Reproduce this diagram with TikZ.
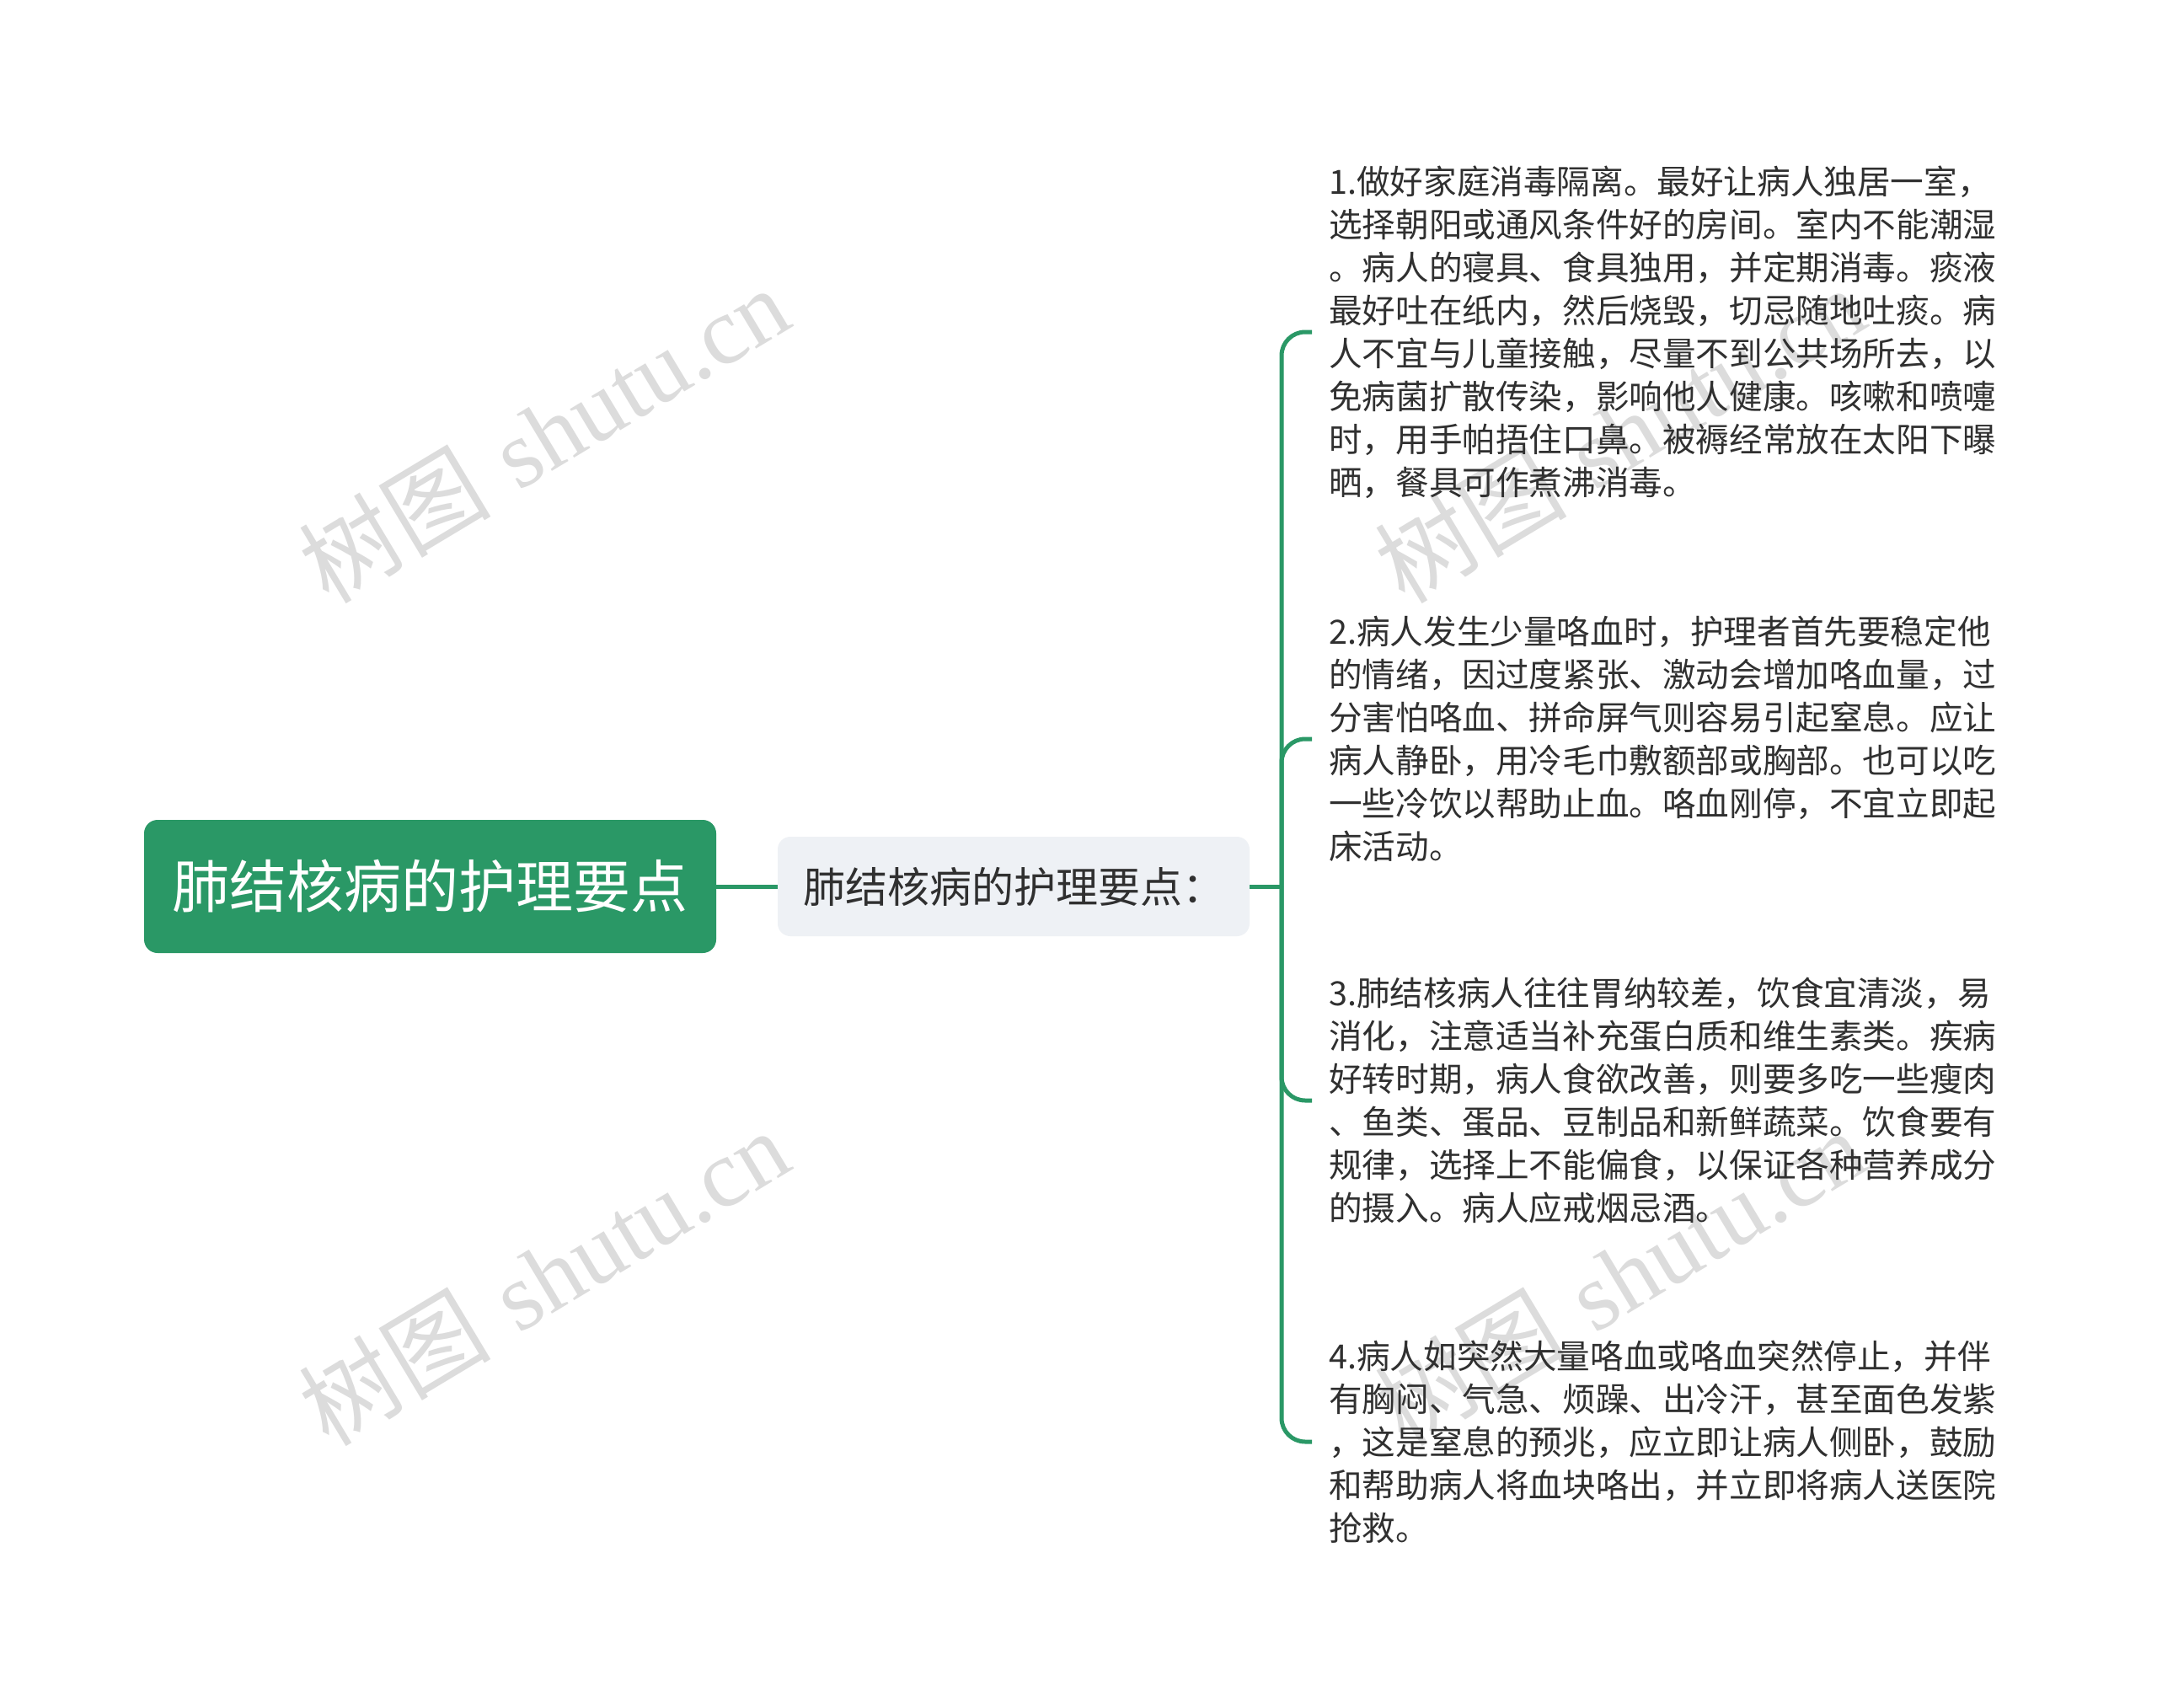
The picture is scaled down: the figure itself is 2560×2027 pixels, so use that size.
\documentclass[tikz,border=0pt]{standalone}
\usepackage{fontspec}
\newfontfamily\cjk{Noto Sans CJK SC}
\newfontfamily\wmserif{Liberation Serif}
\definecolor{mgreen}{RGB}{42,152,102}
\definecolor{midfill}{RGB}{238,241,245}
\definecolor{txtgray}{RGB}{48,48,48}
\definecolor{wmgray}{RGB}{220,220,220}
\tikzset{
  rootbox/.style={rounded corners=16pt, fill=mgreen, minimum width=679pt, minimum height=158pt, inner sep=0pt, text=white, font=\cjk\fontsize{68}{80}\selectfont},
  midbox/.style={rounded corners=15pt, fill=midfill, minimum width=560pt, minimum height=118pt, inner sep=0pt, text=txtgray, font=\cjk\fontsize{50}{60}\selectfont},
  leaf/.style={anchor=west, inner sep=0pt, align=left, text=txtgray, font=\cjk\fontsize{39.6}{51}\selectfont},
  conn/.style={draw=mgreen, line width=5pt},
  wm/.style={rotate=31, text=wmgray, inner sep=0pt, font=\fontsize{114}{124}\selectfont}
}
\begin{document}
\begin{tikzpicture}[x=1pt,y=-1pt]
\useasboundingbox (0,0) rectangle (2560,2027);
\fill[white] (0,0) rectangle (2560,2027);
% watermarks
\node[wm] (wm1) at (645,515) {{\cjk 树图} {\wmserif shutu.cn}};
\node[wm] (wm2) at (645,1515) {{\cjk 树图} {\wmserif shutu.cn}};
\node[wm] (wm3) at (1922,515) {{\cjk 树图} {\wmserif shutu.cn}};
\node[wm] (wm4) at (1922,1515) {{\cjk 树图} {\wmserif shutu.cn}};
% nodes
\node[rootbox] (root) at (510.5,1052) {肺结核病的护理要点};
\node[midbox] (mid) at (1203,1052) {肺结核病的护理要点：};
\coordinate (fork) at (1521,1052);
\node[leaf] (t1) at (1577,394) {1.做好家庭消毒隔离。最好让病人独居一室，\\选择朝阳或通风条件好的房间。室内不能潮湿\\。病人的寝具、食具独用，并定期消毒。痰液\\最好吐在纸内，然后烧毁，切忌随地吐痰。病\\人不宜与儿童接触，尽量不到公共场所去，以\\免病菌扩散传染，影响他人健康。咳嗽和喷嚏\\时，用手帕捂住口鼻。被褥经常放在太阳下曝\\晒，餐具可作煮沸消毒。};
\node[leaf] (t2) at (1577,877) {2.病人发生少量咯血时，护理者首先要稳定他\\的情绪，因过度紧张、激动会增加咯血量，过\\分害怕咯血、拼命屏气则容易引起窒息。应让\\病人静卧，用冷毛巾敷额部或胸部。也可以吃\\一些冷饮以帮助止血。咯血刚停，不宜立即起\\床活动。};
\node[leaf] (t3) at (1577,1306) {3.肺结核病人往往胃纳较差，饮食宜清淡，易\\消化，注意适当补充蛋白质和维生素类。疾病\\好转时期，病人食欲改善，则要多吃一些瘦肉\\、鱼类、蛋品、豆制品和新鲜蔬菜。饮食要有\\规律，选择上不能偏食，以保证各种营养成分\\的摄入。病人应戒烟忌酒。};
\node[leaf] (t4) at (1577,1711) {4.病人如突然大量咯血或咯血突然停止，并伴\\有胸闷、气急、烦躁、出冷汗，甚至面色发紫\\，这是窒息的预兆，应立即让病人侧卧，鼓励\\和帮助病人将血块咯出，并立即将病人送医院\\抢救。};
% connectors
\draw[conn] (root.east) -- (mid.west);
\draw[conn] (mid.east) -- (fork);
\foreach \t in {t1,t2,t3,t4}
  \draw[conn, rounded corners=28pt, shorten >=20pt] (fork) |- (\t.west);
\end{tikzpicture}
\end{document}
